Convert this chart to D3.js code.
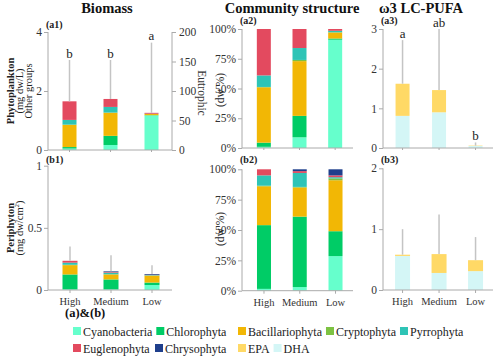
<!DOCTYPE html>
<html><head><meta charset="utf-8">
<script src="https://cdn.jsdelivr.net/npm/d3@7/dist/d3.min.js"></script>
<style>body{margin:0;background:#fff}svg{display:block}svg text{font-family:"Liberation Serif","Times New Roman",Times,serif !important}</style>
</head><body><svg id="c" width="500" height="358"></svg>
<script>
const categories = ["High","Medium","Low"];
const groups = ["Cyanobacteria","Chlorophyta","Bacillariophyta","Cryptophyta","Pyrrophyta","Euglenophyta","Chrysophyta"];
const fattyGroups = ["DHA","EPA"];
const colors = {Cyanobacteria:"#66FFCC",Chlorophyta:"#00CC66",Bacillariophyta:"#F2B705",Cryptophyta:"#7DC242",Pyrrophyta:"#2EC4B6",Euglenophyta:"#E34A5F",Chrysophyta:"#1F3F8C",EPA:"#FFD966",DHA:"#D4F6F6"};

// (a1) phytoplankton biomass, mg dw/L
const a1Values = {Cyanobacteria:[0.05,0.17,1.17],Chlorophyta:[0.05,0.31,0.01],Bacillariophyta:[0.75,0.78,0.04],Cryptophyta:[0.01,0.01,0],Pyrrophyta:[0.16,0.19,0.01],Euglenophyta:[0.63,0.27,0.03],Chrysophyta:[0,0,0]};
const a1Error = [3.05,3.05,3.64];
const a1Letters = ["b","b","a"];
// (a2) phytoplankton community structure, %
const a2Values = {Cyanobacteria:[1,9,91],Chlorophyta:[3.5,18,1],Bacillariophyta:[46.5,46,5],Cryptophyta:[0.3,1,0.3],Pyrrophyta:[9.7,10,1.2],Euglenophyta:[39,16,1.5],Chrysophyta:[0,0,0]};
// (a3) phytoplankton ω3 LC-PUFA
const a3Values = {DHA:[0.81,0.9,0.05],EPA:[0.81,0.56,0.01]};
const a3Error = [2.72,3.0,0.14];
const a3Letters = ["a","ab","b"];
// (b1) periphyton biomass, mg dw/cm2
const b1Values = {Cyanobacteria:[0.005,0.005,0.04],Chlorophyta:[0.12,0.08,0.02],Bacillariophyta:[0.075,0.04,0.055],Cryptophyta:[0.003,0.002,0.002],Pyrrophyta:[0.017,0.013,0.003],Euglenophyta:[0.015,0.005,0.002],Chrysophyta:[0,0.005,0.006]};
const b1Error = [0.35,0.28,0.2];
// (b2) periphyton community structure, %
const b2Values = {Cyanobacteria:[1.5,3,28.5],Chlorophyta:[52.5,58,20.5],Bacillariophyta:[32,24,42],Cryptophyta:[0.5,0.5,1.5],Pyrrophyta:[8.5,11.5,1],Euglenophyta:[5,1.5,1.5],Chrysophyta:[0,1.5,5]};
// (b3) periphyton ω3 LC-PUFA
const b3Values = {DHA:[0.56,0.28,0.31],EPA:[0.02,0.31,0.18]};
const b3Error = [1.0,1.24,0.87];

const a1Ticks=[0,2,4], a1RightTicks=[0,50,100,150,200], pctTicks=[0,25,50,75,100], a3Ticks=[0,1,2,3], b1Ticks=[0,0.5,1], b3Ticks=[0,1,2];

const svg = d3.select("#c");
const axisCol="#aaa", textCol="#333";

function panel(o){
  const g = svg.append("g");
  const x = d3.scaleBand().domain(categories).range(o.xr).paddingInner(0.62).paddingOuter(0.31);
  const y = d3.scaleLinear().domain(o.domain).range([o.yb,o.yt]);
  const rows = categories.map((c,i)=>{const r={cat:c}; o.keys.forEach(k=>r[k]=o.values[k][i]); return r;});
  const stack = d3.stack().keys(o.keys)(rows);
  const bw = o.bw||14;
  stack.forEach(s=>{
    g.selectAll(null).data(s).join("rect")
      .attr("x",d=>x(d.data.cat)+x.bandwidth()/2-bw/2).attr("width",bw)
      .attr("y",d=>y(d[1])).attr("height",d=>Math.max(0,y(d[0])-y(d[1])))
      .attr("fill",colors[s.key]);
  });
  const tops = rows.map(r=>d3.sum(o.keys,k=>r[k]));
  if(o.error){
    g.selectAll(null).data(o.error).join("line")
      .attr("x1",(d,i)=>x(categories[i])+x.bandwidth()/2).attr("x2",(d,i)=>x(categories[i])+x.bandwidth()/2)
      .attr("y1",(d,i)=>y(tops[i])).attr("y2",d=>y(d)).attr("stroke","#c4c4c4").attr("stroke-width",1.5);
  }
  if(o.letters){
    g.selectAll(null).data(o.letters).join("text")
      .attr("x",(d,i)=>x(categories[i])+x.bandwidth()/2).attr("y",(d,i)=>y(o.error[i])-2.5)
      .attr("text-anchor","middle").attr("font-size",13).attr("fill","#222").text(d=>d);
  }
  const ya = g.append("g").attr("transform",`translate(${o.ax},0)`)
    .call(d3.axisLeft(y).tickValues(o.ticks).tickSize(4).tickFormat(o.fmt||(d=>d)));
  ya.select(".domain").attr("stroke",axisCol).attr("d",`M-0,${o.yb}V${o.yt}`);
  ya.selectAll(".tick line").attr("stroke",axisCol);
  ya.selectAll(".tick text").attr("font-size",11.5).attr("fill",textCol).attr("x",-6);
  const xa = g.append("g").attr("transform",`translate(0,${o.yb})`).call(d3.axisBottom(x).tickSize(o.showX?3:2).tickFormat(o.showX?(d=>d):""));
  xa.select(".domain").attr("stroke",axisCol).attr("d",`M${o.ax},0H${o.axEnd}`);
  xa.selectAll(".tick line").attr("stroke",axisCol);
  xa.selectAll(".tick text").attr("font-size",10.5).attr("fill",textCol).attr("dy","0.9em");
  g.append("text").attr("x",o.ax-2).attr("y",o.ly).attr("font-size",10).attr("font-weight","bold").attr("fill","#222").text(o.label);
  return {g,x,y};
}

const pctFmt = d=>d+"%";
panel({xr:[49,172],ax:48,axEnd:172,yb:150,yt:32,ly:28,domain:[0,4],ticks:a1Ticks,keys:groups,values:a1Values,error:a1Error,letters:a1Letters,label:"(a1)"});
const yR = d3.scaleLinear().domain([0,200]).range([150,32]);
const ra = svg.append("g").attr("transform","translate(172,0)").call(d3.axisRight(yR).tickValues(a1RightTicks).tickSize(4));
ra.select(".domain").attr("stroke",axisCol).attr("d","M0,150V32");
ra.selectAll(".tick line").attr("stroke",axisCol);
ra.selectAll(".tick text").attr("font-size",11.5).attr("fill",textCol).attr("x",7);
svg.append("text").attr("transform","translate(198,93) rotate(90)").attr("text-anchor","middle").attr("font-size",11.5).attr("fill",textCol).text("Eutrophic");

panel({xr:[246,353],ax:242,axEnd:353,yb:148,yt:29,ly:24,domain:[0,100],ticks:pctTicks,fmt:pctFmt,keys:groups,values:a2Values,label:"(a2)"});
panel({xr:[384.3,493.8],ax:383,axEnd:493,yb:148,yt:29,ly:24,domain:[0,3],ticks:a3Ticks,keys:fattyGroups,values:a3Values,error:a3Error,letters:a3Letters,label:"(a3)"});
panel({xr:[49.5,172.5],ax:48,axEnd:172,yb:290,yt:165.7,ly:163,domain:[0,1],ticks:b1Ticks,keys:groups,values:b1Values,error:b1Error,label:"(b1)",showX:true,bw:15});
panel({xr:[246.1,353.4],ax:242,axEnd:353,yb:290.7,yt:169.3,ly:163,domain:[0,100],ticks:pctTicks,fmt:pctFmt,keys:groups,values:b2Values,label:"(b2)",showX:true});
panel({xr:[384.3,493.8],ax:383,axEnd:493,yb:290,yt:168.3,ly:163,domain:[0,2],ticks:b3Ticks,keys:fattyGroups,values:b3Values,error:b3Error,label:"(b3)",showX:true,bw:15});

const titles=[["Biomass",107],["Community structure",292],["ω3 LC-PUFA",421]];
svg.selectAll(null).data(titles).join("text").attr("x",d=>d[1]).attr("y",12.5).attr("text-anchor","middle")
  .attr("font-size",14.5).attr("font-weight","bold").attr("fill","#111").text(d=>d[0]);

function vlabel(lines,cy){
  lines.forEach(l=>svg.append("text").attr("transform",`translate(${l[1]},${cy}) rotate(-90)`).attr("text-anchor","middle")
    .attr("font-size",l[3]||10.5).attr("font-weight",l[2]?"bold":"normal").attr("fill","#222").text(l[0]));
}
vlabel([["Phytoplankton",14,true],["(mg dw/L)",23],["Other groups",32]],91);
vlabel([["Periphyton",14,true]],228);
svg.append("text").attr("transform","translate(23,228) rotate(-90)").attr("text-anchor","middle").attr("font-size",10.5).attr("fill","#222")
  .html('(mg dw/cm<tspan baseline-shift="super" font-size="7">2</tspan>)');
vlabel([["(dw %)",224,false,11.5]],90);
vlabel([["(dw %)",224,false,11.5]],229);

svg.append("text").attr("x",65).attr("y",317).attr("font-size",12.5).attr("font-weight","bold").attr("fill","#111").text("(a)&(b)");
const legendRows=[[["Cyanobacteria",73],["Chlorophyta",156],["Bacillariophyta",238],["Cryptophyta",315],["Pyrrophyta",388]],
  [["Euglenophyta",73],["Chrysophyta",155],["EPA",238],["DHA",267]]];
legendRows.forEach((row,ri)=>{
  let end=0; const yy = ri?348:331;
  row.forEach(([name,px])=>{
    const xx=Math.max(px,end+4);
    const it=svg.append("g").attr("transform",`translate(${xx},${yy})`);
    it.append("rect").attr("x",0).attr("y",-4).attr("width",8).attr("height",8).attr("fill",colors[name]);
    const t=it.append("text").attr("x",10).attr("y",4.5).attr("font-size",12).attr("fill","#222").text(name);
    end = xx+10+t.node().getComputedTextLength();
  });
});
</script></body></html>
